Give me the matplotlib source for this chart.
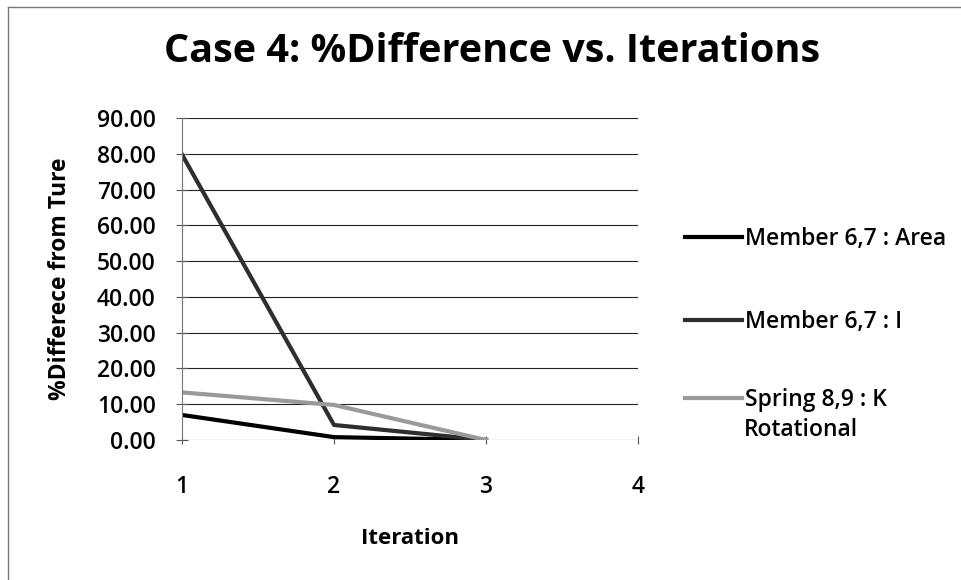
import matplotlib
matplotlib.use("Agg")
import matplotlib.pyplot as plt
from matplotlib.lines import Line2D

plt.rcParams['font.family'] = ['Open Sans', 'DejaVu Sans']

# data
iterations = [1, 2, 3]
area = [7.0, 0.8, 0.0]
inertia = [79.8, 4.2, 0.0]
spring_k = [13.3, 9.8, 0.0]

series_labels = ["Member 6,7 : Area", "Member 6,7 : I", "Spring 8,9 : K"]
series_colors = ["#000000", "#2e2e2e", "#9a9a9a"]
y_ticks = [0, 10, 20, 30, 40, 50, 60, 70, 80, 90]
x_ticks = [1, 2, 3, 4]

W, H = 961, 580
fig = plt.figure(figsize=(W / 100, H / 100), dpi=100)
ax = fig.add_axes([182 / W, 1 - 440 / H, (638 - 182) / W, (440 - 118) / H])

lines = []
for vals, lab, col in zip([area, inertia, spring_k], series_labels, series_colors):
    ln, = ax.plot(iterations, vals, color=col, lw=3.0, label=lab)
    lines.append(ln)

ax.set_xlim(1, 4)
ax.set_ylim(0, 90)
ax.set_yticks(y_ticks)
ax.set_yticklabels([f"{v:.2f}" for v in y_ticks], fontsize=16.5, fontweight="semibold")
ax.set_xticks(x_ticks)
ax.set_xticklabels([str(v) for v in x_ticks], fontsize=16.5, fontweight="semibold")
ax.yaxis.grid(True, color="#222222", lw=0.8)
ax.set_axisbelow(True)

for side in ["top", "right", "bottom"]:
    ax.spines[side].set_visible(False)
ax.spines["left"].set_color("#777777")
ax.tick_params(axis="y", direction="inout", length=8, color="#555555", pad=15)
ax.tick_params(axis="x", direction="inout", length=6, color="#555555", pad=22)

ax.set_xlabel("Iteration", fontsize=16, fontweight="bold", labelpad=21)
ax.set_ylabel("%Differece from Ture", fontsize=16.5, fontweight="bold", labelpad=18)

fig.text(492 / W, 1 - 52 / H, "Case 4: %Difference vs. Iterations", fontsize=28.5,
         fontweight="bold", ha="center", va="center")

# legend entries, one per series, stacked at the right like the original
legend_y = [239, 322, 400]
for ln, ypix in zip(lines, legend_y):
    fig.legend(handles=[ln], loc="center left", bbox_to_anchor=(685 / W, 1 - ypix / H),
               frameon=False, handlelength=2.5, handletextpad=0.12,
               borderpad=0, borderaxespad=0, prop={"weight": "semibold", "size": 16.5})
fig.text(744 / W, 1 - 430 / H, "Rotational", fontsize=16.5, fontweight="semibold",
         ha="left", va="center")

# scanned chart frame: only the top and left edges show
fig.add_artist(Line2D([8 / W, 8 / W], [0, 1 - 7 / H], transform=fig.transFigure,
                      color="#777777", lw=1.0))
fig.add_artist(Line2D([8 / W, 1], [1 - 7 / H, 1 - 7 / H], transform=fig.transFigure,
                      color="#777777", lw=1.0))

fig.savefig("out.png", dpi=100)
